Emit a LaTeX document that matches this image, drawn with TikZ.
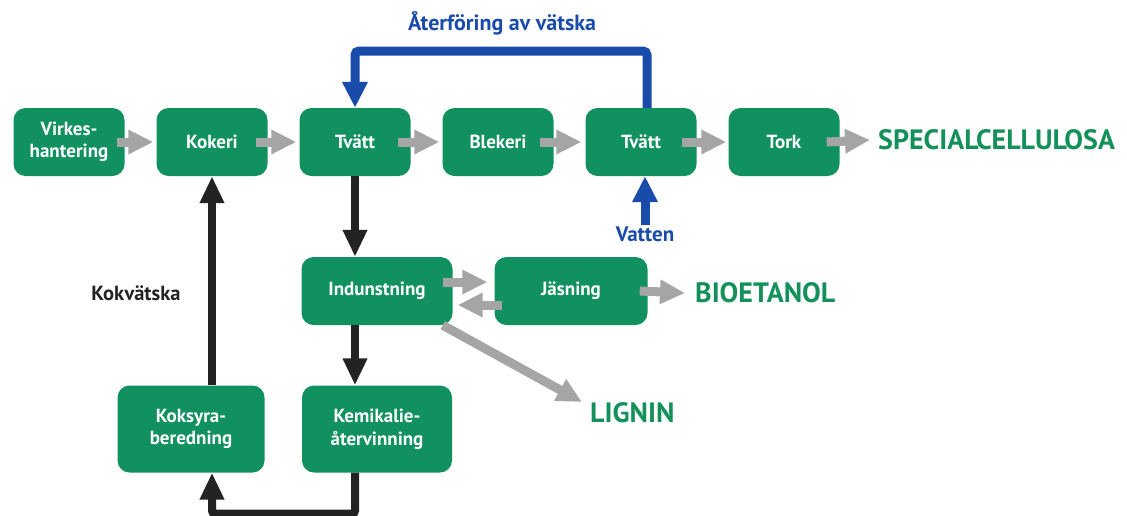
\documentclass[tikz,border=0pt]{standalone}
\usepackage{fontspec}
\setmainfont{PT Sans}
\usetikzlibrary{arrows.meta}

\definecolor{boxgreen}{RGB}{17,145,96}
\definecolor{prodgreen}{RGB}{20,145,90}
\definecolor{flowblue}{RGB}{25,75,170}
\definecolor{flowgray}{RGB}{165,165,165}
\definecolor{flowblack}{RGB}{35,35,35}

\tikzset{
  stage/.style={fill=boxgreen, rounded corners=12pt, text=white, align=center,
    minimum width=111pt, minimum height=68pt, inner sep=0pt,
    font=\bfseries\fontsize{19}{22.5}\selectfont},
  product/.style={text=prodgreen, inner sep=0pt, anchor=west,
    font=\bfseries\fontsize{28}{32}\selectfont},
  grayflow/.style={draw=flowgray, line width=9pt, -{Triangle[width=23pt,length=25pt]}},
  blackflow/.style={draw=flowblack, line width=8pt, -{Triangle[width=23pt,length=27pt]}},
  blueflow/.style={draw=flowblue, line width=9pt, rounded corners=4pt,
    -{Triangle[width=24pt,length=26pt]}}
}

\begin{document}
\begin{tikzpicture}[x=1pt, y=-1pt]
  \useasboundingbox (0,0) rectangle (1127,515);

  \node[stage] (virke) at (69,142) {Virkes-\\hantering};
  \node[stage] (kokeri) at (212,142) {Kokeri};
  \node[stage] (tvatta) at (355,142) {Tvätt};
  \node[stage] (blekeri) at (498,142) {Blekeri};
  \node[stage] (tvattb) at (641,142) {Tvätt};
  \node[stage] (tork) at (784,142) {Tork};
  \node[product] (cellulosa) at (878,140) {SPECIALCELLULOSA};

  \node[stage, minimum width=151pt] (indunst) at (377,291) {Indunstning};
  \node[stage, minimum width=153pt] (jasning) at (571,291) {Jäsning};
  \node[product] (bioetanol) at (695,293) {BIOETANOL};
  \node[product] (lignin) at (590,413) {LIGNIN};

  \node[stage, minimum width=150pt, minimum height=87pt] (kemi) at (377,429)
    {Kemikalie-\\återvinning};
  \node[stage, minimum width=147pt, minimum height=87pt] (koksyra) at (191,429)
    {Koksyra-\\beredning};

  \node[text=flowblue, font=\bfseries\fontsize{22}{24}\selectfont] (aterforing)
    at (502,23) {Återföring av vätska};
  \node[text=flowblue, inner sep=1pt, font=\bfseries\fontsize{21}{24}\selectfont]
    (vatten) at (645,234) {Vatten};
  \node[text=flowblack, font=\bfseries\fontsize{20.5}{24}\selectfont] (kokvatska)
    at (136,293) {Kokvätska};

  \coordinate (looptop) at (500,51);

  \draw[grayflow] ([xshift=-8pt]virke.east) -- ([xshift=-3pt]kokeri.west);
  \draw[grayflow] ([xshift=-12pt]kokeri.east) -- ([xshift=-3pt]tvatta.west);
  \draw[grayflow] ([xshift=-13pt]tvatta.east) -- ([xshift=-3pt]blekeri.west);
  \draw[grayflow] ([xshift=-14pt]blekeri.east) -- ([xshift=-4pt]tvattb.west);
  \draw[grayflow] ([xshift=-15pt]tvattb.east) -- ([xshift=-2pt]tork.west);
  \draw[grayflow] ([xshift=-13pt]tork.east) -- ([xshift=-8pt]cellulosa.west);

  \draw[grayflow] ([shift={(-10pt,9pt)}]indunst.east) -- ([shift={(-7pt,9pt)}]jasning.west);
  \draw[grayflow] ([shift={(8pt,-14pt)}]jasning.west) -- ([shift={(5pt,-14pt)}]indunst.east);
  \draw[grayflow] ([xshift=-8pt]jasning.east) -- ([xshift=-10pt]bioetanol.west);
  \draw[grayflow] ([xshift=-10pt]indunst.south east) -- ([shift={(-8pt,11pt)}]lignin.west);

  \draw[blueflow] ([xshift=6pt]tvattb.north) |- (looptop) -| (tvatta.north);
  \draw[blueflow] (vatten.north) -- ([xshift=4pt]tvattb.south);

  \draw[blackflow] (tvatta.south) -- (tvatta.south |- indunst.north);
  \draw[blackflow] (indunst.south -| tvatta.south) -- (kemi.north -| tvatta.south);
  \draw[blackflow, rounded corners=3pt] (kemi.south -| tvatta.south) -- ++(0,41)
    -| (koksyra.south -| kokeri.south);
  \draw[blackflow] (koksyra.north -| kokeri.south) -- (kokeri.south);
\end{tikzpicture}
\end{document}
